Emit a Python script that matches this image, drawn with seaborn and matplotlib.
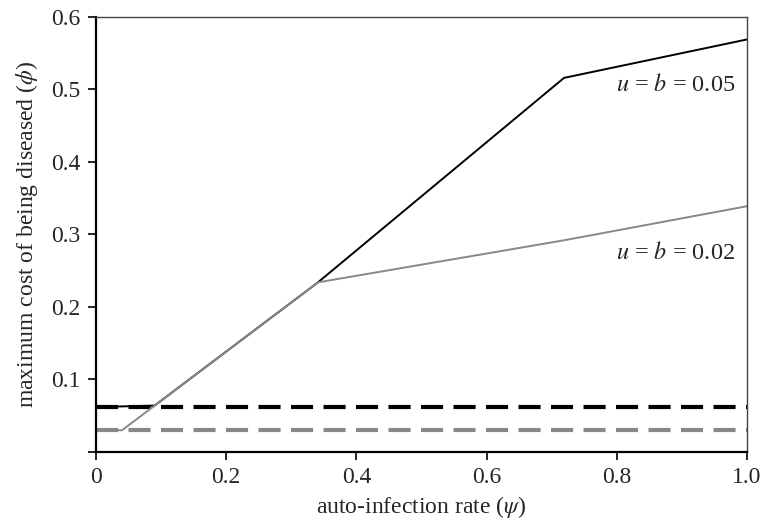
import seaborn as sns
import matplotlib.pyplot as plt
import pandas as pd

# values
psi_05 = [0.0, 0.09, 0.341, 0.719, 1.0]
phi_05 = [0.062, 0.064, 0.234, 0.516, 0.569]
psi_02 = [0.0, 0.040, 0.341, 0.719, 1.0]
phi_02 = [0.030, 0.030, 0.234, 0.292, 0.339]
psi_flat = [0.0, 1.0]
flat_05 = [0.062, 0.062]
flat_02 = [0.030, 0.030]
xticks = [0, 0.2, 0.4, 0.6, 0.8, 1.0]
xticklabels = ['0', '0.2', '0.4', '0.6', '0.8', '1.0']
yticks = [0, 0.1, 0.2, 0.3, 0.4, 0.5, 0.6]
yticklabels = ['', '0.1', '0.2', '0.3', '0.4', '0.5', '0.6']

sns.set_style("ticks")
plt.rcParams['font.family'] = ['Liberation Serif', 'DejaVu Serif']
plt.rcParams['mathtext.fontset'] = 'stix'

df05 = pd.DataFrame({'psi': psi_05, 'phi': phi_05})
df02 = pd.DataFrame({'psi': psi_02, 'phi': phi_02})
dff = pd.DataFrame({'psi': psi_flat, 'b05': flat_05, 'b02': flat_02})

fig = plt.figure(figsize=(7.63, 5.24), dpi=100)
ax = fig.add_axes([0.1258, 0.1374, 0.8532, 0.8302])

# threshold lines (dashed)
sns.lineplot(data=dff, x='psi', y='b05', ax=ax, color='black', lw=3)
ax.lines[-1].set_dashes([5.3, 2.5])
sns.lineplot(data=dff, x='psi', y='b02', ax=ax, color='#888888', lw=3)
ax.lines[-1].set_dashes([5.3, 2.5])
# maximum cost curves
sns.lineplot(data=df05, x='psi', y='phi', ax=ax, color='black', lw=1.4, sort=False)
sns.lineplot(data=df02, x='psi', y='phi', ax=ax, color='#888888', lw=1.4, sort=False)

ax.set_xlim(0, 1.0)
ax.set_ylim(0, 0.6)
ax.set_xticks(xticks)
ax.set_xticklabels(xticklabels)
ax.set_yticks(yticks)
ax.set_yticklabels(yticklabels)
ax.tick_params(labelsize=17, direction='out', length=6, width=1.2, color='black', pad=5)

for s in ['left', 'bottom']:
    ax.spines[s].set_linewidth(1.6)
    ax.spines[s].set_color('black')
for s in ['top', 'right']:
    ax.spines[s].set_visible(True)
    ax.spines[s].set_linewidth(1.0)
    ax.spines[s].set_color('#444444')

ax.set_xlabel(r'auto-infection rate ($\psi$)', fontsize=17, labelpad=4)
ax.set_ylabel(r'maximum cost of being diseased ($\phi$)', fontsize=17, labelpad=8)

ax.text(0.982, 0.506, r'$u$ = $b$ = 0.05', fontsize=17.5, ha='right', va='center')
ax.text(0.982, 0.274, r'$u$ = $b$ = 0.02', fontsize=17.5, ha='right', va='center')

fig.savefig('out.png', dpi=100)
